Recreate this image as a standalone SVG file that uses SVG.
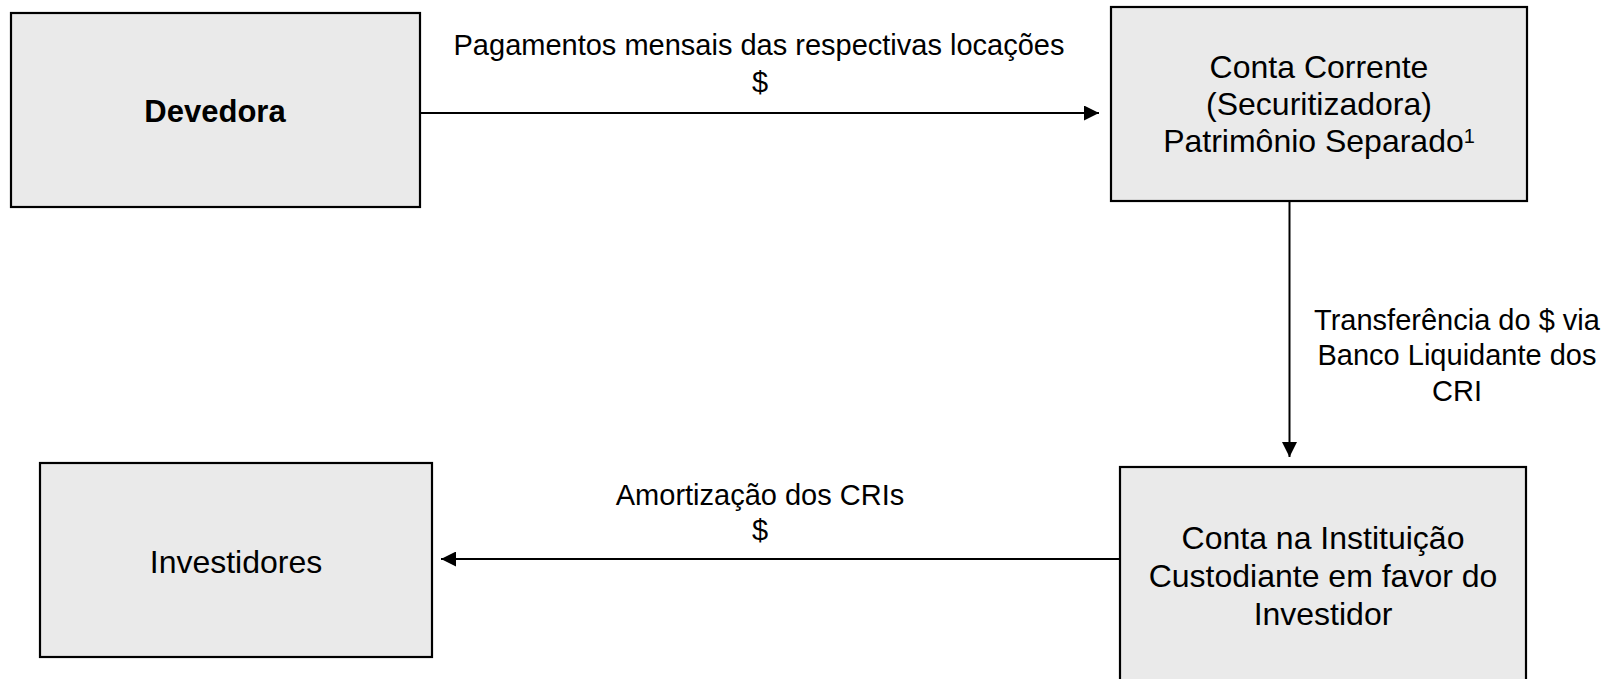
<svg xmlns="http://www.w3.org/2000/svg" width="1612" height="679" viewBox="0 0 1612 679">
<style>
.box{fill:#EAEAEA;stroke:#000;stroke-width:2.2}
.t{font-family:"Liberation Sans",Arial,sans-serif;font-size:32px;fill:#000;text-anchor:middle}
.b{font-weight:bold;font-size:31px}
.l{font-family:"Liberation Sans",Arial,sans-serif;font-size:29px;fill:#000;text-anchor:middle}
.c{fill:none;stroke:#000;stroke-width:2}
</style>
<defs>
<marker id="ah" markerUnits="userSpaceOnUse" markerWidth="15" markerHeight="15" refX="15" refY="7.5" orient="auto">
<path d="M0,0 L15,7.5 L0,15 z" fill="#000"/>
</marker>
</defs>
<rect width="1612" height="679" fill="#fff"/>
<g id="devedora">
<rect class="box" x="11" y="13" width="409" height="194"/>
<text class="t b" x="215" y="121.5">Devedora</text>
</g>
<g id="conta-corrente">
<rect class="box" x="1111" y="7" width="416" height="194"/>
<text class="t" x="1319" y="77.5">Conta Corrente</text>
<text class="t" x="1319" y="114.5">(Securitizadora)</text>
<text class="t" x="1319" y="151.5">Patrimônio Separado<tspan font-size="20" dy="-9">1</tspan></text>
</g>
<g id="investidores">
<rect class="box" x="40" y="463" width="392" height="194"/>
<text class="t" x="236" y="572.5">Investidores</text>
</g>
<g id="conta-instituicao">
<rect class="box" x="1120" y="467" width="406" height="230"/>
<text class="t" x="1323" y="548.5">Conta na Instituição</text>
<text class="t" x="1323" y="586.5">Custodiante em favor do</text>
<text class="t" x="1323" y="624.5">Investidor</text>
</g>
<g id="connectors">
<line class="c" x1="421" y1="113" x2="1099" y2="113" marker-end="url(#ah)"/>
<line class="c" x1="1289.5" y1="202" x2="1289.5" y2="457" marker-end="url(#ah)"/>
<line class="c" x1="1119" y1="559" x2="441" y2="559" marker-end="url(#ah)"/>
<text class="l" x="759" y="55">Pagamentos mensais das respectivas locações</text>
<text class="l" x="760" y="91.5">$</text>
<text class="l" x="1457" y="329.5">Transferência do $ via</text>
<text class="l" x="1457" y="365">Banco Liquidante dos</text>
<text class="l" x="1457" y="400.5">CRI</text>
<text class="l" x="760" y="505">Amortização dos CRIs</text>
<text class="l" x="760" y="540">$</text>
</g>
</svg>
